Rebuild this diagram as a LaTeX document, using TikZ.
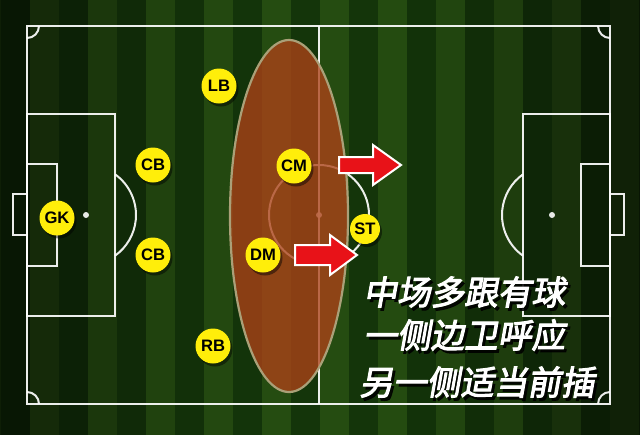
\documentclass[tikz,border=0pt]{standalone}
\usepackage{fontspec}
\setmainfont{Liberation Sans}
\newfontfamily\cjk[FakeBold=3,FakeSlant=0.18]{Noto Sans CJK SC}
\definecolor{grassL}{RGB}{76,156,34}
\definecolor{grassD}{RGB}{40,108,20}
\definecolor{zone}{RGB}{172,66,24}
\definecolor{zoneedge}{RGB}{170,160,120}
\definecolor{pyellow}{RGB}{255,238,10}
\definecolor{arrowred}{RGB}{232,18,24}
\tikzset{
  fieldline/.style={draw=white, line width=1pt, opacity=0.92},
  player/.style={circle, fill=pyellow, minimum size=17.5pt, inner sep=0pt,
    font=\bfseries\fontsize{8.3pt}{9pt}\selectfont, text=black},
  smallplayer/.style={player, minimum size=15pt},
  pshadow/.style={fill=black, opacity=0.45},
  redarrow/.style={fill=arrowred, draw=white, line width=1pt, line join=miter},
  caption/.style={font=\cjk\fontsize{16.8pt}{18pt}\selectfont, anchor=west, inner sep=0pt}
}
\begin{document}
\begin{tikzpicture}[x=0.5pt, y=-0.5pt]
\useasboundingbox (0,0) rectangle (640,434);
% grass stripes with vignette
\foreach \k in {0,...,23}{
  \pgfmathsetmacro{\xa}{-28+29*\k}
  \pgfmathsetmacro{\xb}{\xa+29}
  \pgfmathsetmacro{\d}{min(1,abs((\xa+14.5)-320)/320)}
  \pgfmathsetmacro{\p}{int(100-62*\d*\d)}
  \pgfmathsetmacro{\q}{int(\p*0.5)}
  \ifodd\k
    \colorlet{sbase}{grassD}
  \else
    \colorlet{sbase}{grassL}
  \fi
  \colorlet{smid}{sbase!\p!black}
  \colorlet{sedge}{sbase!\q!black}
  \shade[top color=sedge, middle color=smid, bottom color=sedge] (\xa,0) rectangle (\xb,434);
}
% field lines
\draw[fieldline] (27,26) rectangle (610,404);
\draw[fieldline] (319,26) -- (319,404);
\draw[fieldline] (319,215) circle[radius=50];
\fill[white, opacity=0.9] (319,215) circle[radius=3];
% left
\draw[fieldline] (27,114) rectangle (115,316);
\draw[fieldline] (27,164) rectangle (57,266);
\draw[fieldline] (13,194) rectangle (27,235);
\fill[white, opacity=0.9] (86,215) circle[radius=3];
\draw[fieldline] (86,215) ++(-54.5:50) arc[start angle=-54.5, end angle=54.5, radius=50];
% right
\draw[fieldline] (523,114) rectangle (610,316);
\draw[fieldline] (581,164) rectangle (610,266);
\draw[fieldline] (610,194) rectangle (624,235);
\fill[white, opacity=0.9] (552,215) circle[radius=3];
\draw[fieldline] (552,215) ++(125.5:50) arc[start angle=125.5, end angle=234.5, radius=50];
% corners
\draw[fieldline] (39,26) arc[start angle=0, end angle=90, radius=12];
\draw[fieldline] (610,38) arc[start angle=90, end angle=180, radius=12];
\draw[fieldline] (27,392) arc[start angle=-90, end angle=0, radius=12];
\draw[fieldline] (598,404) arc[start angle=180, end angle=270, radius=12];
% midfield zone
\fill[zone, opacity=0.78] (289,216) ellipse[x radius=59, y radius=176];
\draw[zoneedge, line width=1.1pt] (289,216) ellipse[x radius=59, y radius=176];
% arrows
\coordinate (a1) at (339,166);
\coordinate (a2) at (295,255);
\draw[redarrow] (a1) ++(0,-9) -- ++(34,0) -- ++(0,-12) -- ++(28,20) -- ++(-28,20) -- ++(0,-12) -- ++(-34,0) -- cycle;
\draw[redarrow] (a2) ++(0,-10) -- ++(35,0) -- ++(0,-10) -- ++(27,20) -- ++(-27,20) -- ++(0,-10) -- ++(-35,0) -- cycle;
% players
\foreach \n/\px/\py/\lab in {lb/219/86/LB, cbt/153/165/CB, cm/294/166/CM, gk/57/218/GK, cbb/153/255/CB, dm/263/255/DM, rb/213/346/RB}{
  \fill[pshadow] (\px+2,\py+3) circle[radius=17.5];
  \node[player] (\n) at (\px,\py) {\lab};
}
\fill[pshadow] (367,232) circle[radius=15];
\node[smallplayer] (st) at (365,229) {ST};
% caption
\foreach \t/\tx/\ty in {中场多跟有球/363/292, 一侧边卫呼应/363/335, 另一侧适当前插/359/382}{
  \node[caption, text=black, opacity=0.85] at (\tx+2.5,\ty+3) {\t};
  \node[caption, text=white] at (\tx,\ty) {\t};
}
\end{tikzpicture}
\end{document}
